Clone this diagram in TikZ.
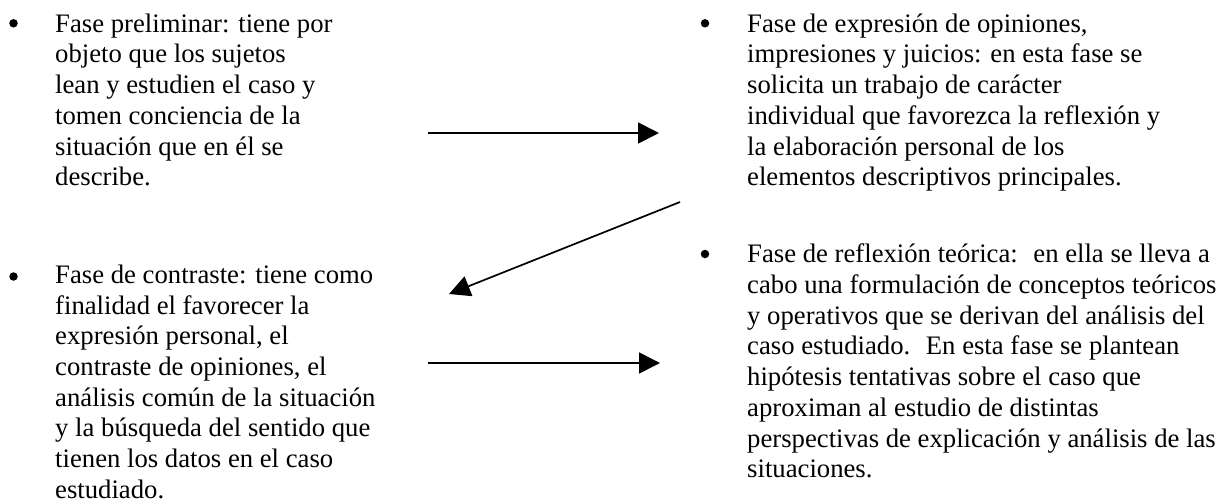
\documentclass[tikz,border=0pt]{standalone}
\usepackage{fontspec}
\setmainfont{Liberation Serif}
\usetikzlibrary{arrows.meta}

\begin{document}
\begin{tikzpicture}[x=1pt, y=-1pt,
	every node/.style={inner sep=0pt, font=\fontsize{26.7}{30.7}\selectfont},
	fase/.style={anchor=north west, align=left},
	bala/.style={circle, fill=black, minimum size=8.5pt},
	flecha/.style={-{Triangle[length=21pt,width=21pt]}, line width=1.7pt},]

    \useasboundingbox (0,0) rectangle (1225,499);

    % fases
    \node[bala] (b1) at (13.5,23.3) {};
    \node[fase] (preliminar) at (55,13.5) {Fase preliminar: tiene por\\objeto que los sujetos\\lean y estudien el caso y\\tomen conciencia de la\\situación que en él se\\describe.};
    \node[bala] (b2) at (705,23.3) {};
    \node[fase] (expresion) at (747,13.5) {Fase de expresión de opiniones,\\impresiones y juicios: en esta fase se\\solicita un trabajo de carácter\\individual que favorezca la reflexión y\\la elaboración personal de los\\elementos descriptivos principales.};
    \node[bala] (b3) at (13.5,276.5) {};
    \node[fase] (contraste) at (55,264.6) {Fase de contraste: tiene como\\finalidad el favorecer la\\expresión personal, el\\contraste de opiniones, el\\análisis común de la situación\\y la búsqueda del sentido que\\tienen los datos en el caso\\estudiado.};
    \node[bala] (b4) at (705,254) {};
    \node[fase] (reflexion) at (747,243.8) {Fase de reflexión teórica:~ en ella se lleva a\\cabo una formulación de conceptos teóricos\\y operativos que se derivan del análisis del\\caso estudiado.~ En esta fase se plantean\\hipótesis tentativas sobre el caso que\\aproximan al estudio de distintas\\perspectivas de explicación y análisis de las\\situaciones.};

    % flechas
    \coordinate (s1) at (428,133);
    \coordinate (e1) at (659,133);
    \coordinate (s2) at (680,202);
    \coordinate (e2) at (449,294);
    \coordinate (s3) at (428,363);
    \coordinate (e3) at (660,363);
    \draw[flecha] (s1) -- (e1);
    \draw[flecha] (s2) -- (e2);
    \draw[flecha] (s3) -- (e3);
\end{tikzpicture}
\end{document}
